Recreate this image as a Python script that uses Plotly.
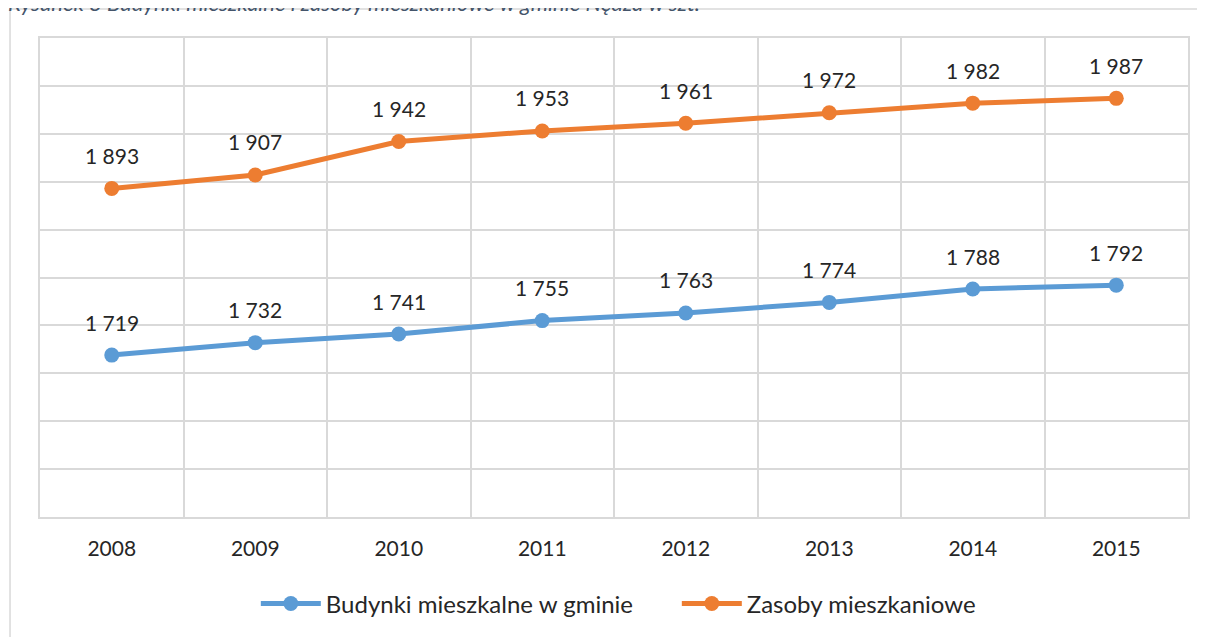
import plotly.graph_objects as go

years = ["2008", "2009", "2010", "2011", "2012", "2013", "2014", "2015"]
budynki = [1719, 1732, 1741, 1755, 1763, 1774, 1788, 1792]
zasoby = [1893, 1907, 1942, 1953, 1961, 1972, 1982, 1987]

series = [
    ("Budynki mieszkalne w gminie", budynki, "#5B9BD5"),
    ("Zasoby mieszkaniowe", zasoby, "#ED7D31"),
]

FONT = "Lato, Open Sans, sans-serif"
GRID = "#d9d9d9"
TXT = "#262626"


def fmt(v):
    return f"{v:,}".replace(",", " ")


fig = go.Figure()
annotations = []
for name, vals, color in series:
    fig.add_trace(
        go.Scatter(
            x=years,
            y=vals,
            mode="lines+markers",
            name=name,
            line=dict(color=color, width=5),
            marker=dict(color=color, size=15),
        )
    )
    # data labels sit well above each point, like the Excel original
    # (category axis -> annotation x is the category index)
    for i, v in enumerate(vals):
        annotations.append(
            dict(
                x=i, y=v, xref="x", yref="y", text=fmt(v), showarrow=False,
                yshift=33, font=dict(family=FONT, size=21, color=TXT),
            )
        )

# caption above the chart, mostly cut off by the page top as in the source
annotations.append(
    dict(
        x=-0.03, y=1.042, xref="paper", yref="paper", xanchor="left", yanchor="bottom",
        text="<i>Rysunek 8 Budynki mieszkalne i zasoby mieszkaniowe w gminie Nędza w szt.</i>",
        showarrow=False, font=dict(family=FONT, size=22, color="#44546A"),
    )
)

fig.update_layout(
    width=1197,
    height=629,
    margin=dict(l=32, r=17, t=30, b=119),
    paper_bgcolor="white",
    plot_bgcolor="white",
    font=dict(family=FONT, size=21, color=TXT),
    annotations=annotations,
    shapes=[
        dict(
            type="rect", xref="paper", yref="paper",
            x0=-0.0261, x1=1.2, y0=-0.4, y1=1.0604,
            line=dict(color=GRID, width=1.5), layer="below",
        )
    ],
    showlegend=True,
    legend=dict(
        orientation="h", x=0.188, xanchor="left", y=-0.179, yanchor="middle",
        font=dict(family=FONT, size=24, color=TXT),
        itemwidth=60, tracegroupgap=0, entrywidth=346,
    ),
    xaxis=dict(
        type="category",
        range=[-0.5, 7.5],
        tickson="boundaries",
        showgrid=True,
        gridcolor=GRID,
        gridwidth=2,
        showline=True,
        linecolor=GRID,
        linewidth=2,
        mirror=True,
        ticks="",
        ticklabelstandoff=12,
        tickfont=dict(family=FONT, size=21, color=TXT),
    ),
    yaxis=dict(
        range=[1550, 2050],
        dtick=50,
        tick0=1550,
        showgrid=True,
        gridcolor=GRID,
        gridwidth=2,
        showline=True,
        linecolor=GRID,
        linewidth=2,
        mirror=True,
        showticklabels=False,
        ticks="",
        zeroline=False,
    ),
)

fig.write_html("out.html")
